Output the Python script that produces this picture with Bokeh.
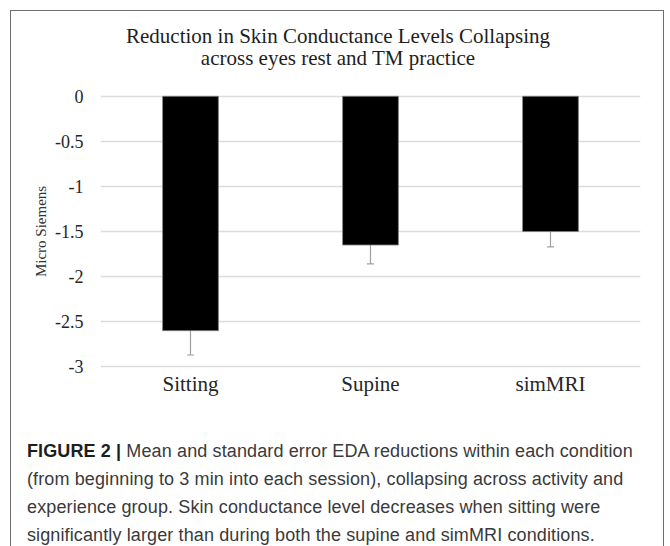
from bokeh.plotting import figure
from bokeh.layouts import column
from bokeh.models import (ColumnDataSource, FactorRange, Range1d, FixedTicker,
                          Whisker, TeeHead, Div)
from bokeh.embed import file_html
from bokeh.resources import INLINE

# ---- data ----
categories = ["Sitting", "Supine", "simMRI"]
means = [-2.60, -1.65, -1.50]
std_err = [0.27, 0.21, 0.17]
y_ticks = [0, -0.5, -1, -1.5, -2, -2.5, -3]
y_tick_labels = ["0", "-0.5", "-1", "-1.5", "-2", "-2.5", "-3"]
title_lines = ["Reduction in Skin Conductance Levels Collapsing",
               "across eyes rest and TM practice"]
y_label = "Micro Siemens"
caption_head = "FIGURE 2 |"
caption_lines = [
    "Mean and standard error EDA reductions within each condition",
    "(from beginning to 3 min into each session), collapsing across activity and",
    "experience group. Skin conductance level decreases when sitting were",
    "significantly larger than during both the supine and simMRI conditions.",
]

SERIF = "Liberation Serif"
SANS = "Liberation Sans"
W = 652

# ---- header ----
hdr = Div(width=W, height=63, margin=(0, 0, 0, 0),
          text=('<div style="width:%dpx; text-align:center; font-family:\'%s\'; font-size:21px; '
                'line-height:22px; padding-top:14px; color:#1e1e1e; white-space:nowrap;">'
                '%s</div>') % (W + 2, SERIF, "<br>".join(title_lines)))

# ---- main chart ----
upper = [m + s for m, s in zip(means, std_err)]
lower = [m - s for m, s in zip(means, std_err)]
src = ColumnDataSource(dict(cat=categories, val=means, upper=upper, lower=lower))

p = figure(width=W, height=360, output_backend="svg", toolbar_location=None,
           x_range=FactorRange(*categories, range_padding=0),
           y_range=Range1d(-3.02, 0.02),
           min_border_left=89, min_border_right=23,
           min_border_top=20, min_border_bottom=66, margin=(0, 0, 0, 0))
p.outline_line_color = None
p.background_fill_color = "white"
p.border_fill_color = "white"

p.vbar(x="cat", top=0, bottom="val", width=0.31, source=src,
       fill_color="black", line_color="#808080", line_width=0.8)

wh = Whisker(source=src, base="cat", upper="upper", lower="lower",
             line_color="#a0a0a0", line_width=1.2,
             upper_head=TeeHead(size=7, line_color="#a0a0a0", line_width=1.2),
             lower_head=TeeHead(size=7, line_color="#a0a0a0", line_width=1.2))
p.add_layout(wh)

p.xgrid.grid_line_color = None
p.ygrid.grid_line_color = "#dcdcdc"
p.ygrid.grid_line_width = 1.5
p.yaxis.ticker = FixedTicker(ticks=y_ticks)
p.yaxis.major_label_overrides = {t: l for t, l in zip(y_ticks, y_tick_labels)}
for ax in (p.xaxis[0], p.yaxis[0]):
    ax.axis_line_color = None
    ax.major_tick_line_color = None
    ax.minor_tick_line_color = None
    ax.major_tick_out = 0
    ax.major_tick_in = 0
    ax.major_label_text_font = SERIF
    ax.major_label_text_color = "#262626"
p.yaxis.major_label_text_font_size = "18px"
p.yaxis.major_label_standoff = 17
p.yaxis.axis_label = y_label
p.yaxis.axis_label_text_font = SERIF
p.yaxis.axis_label_text_font_style = "normal"
p.yaxis.axis_label_text_font_size = "15px"
p.yaxis.axis_label_text_color = "#333333"
p.yaxis.axis_label_standoff = 3
p.xaxis.major_label_text_font_size = "21px"
p.xaxis.major_label_standoff = 3

# ---- caption ----
cap_html = ('<div style="font-family:\'%s\'; font-size:18px; line-height:28px; '
            'letter-spacing:0.12px; padding-top:3px; padding-left:16px; color:#3a3a3a; '
            'white-space:nowrap;">'
            '<b style="color:#1e1e1e;">%s</b> %s</div>') % (
    SANS, caption_head, "<br>".join(caption_lines))
cap = Div(width=W, height=112, margin=(0, 0, 0, 0), text=cap_html)

layout = column(hdr, p, cap, spacing=0)
layout.margin = (10, 0, 0, 10)
layout.styles = {"border-top": "1px solid #6e6e6e",
                 "border-left": "1px solid #6e6e6e",
                 "border-right": "1px solid #6e6e6e",
                 "background-color": "white"}

open("out.html", "w").write(file_html(layout, INLINE))
